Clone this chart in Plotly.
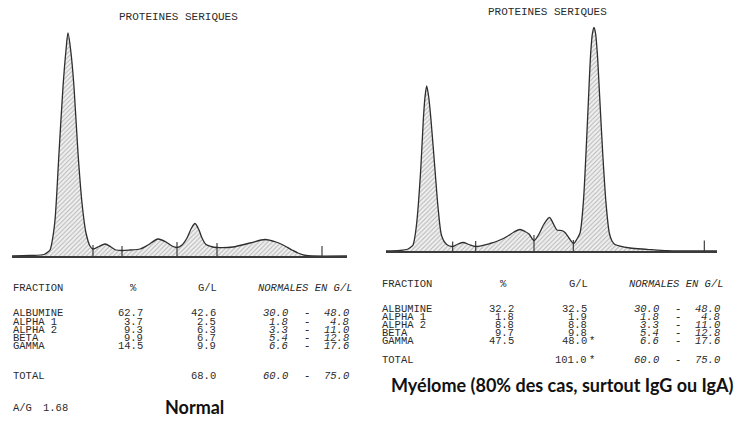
import plotly.graph_objects as go

W, H = 742, 421

# ---------------- data ----------------
# Densitometric traces (position along strip, density height)
normal_pos = [0, 18, 32, 36, 38, 40, 43, 47, 51, 54, 56, 59, 62, 66, 70, 74, 78, 81,
              87, 93, 99, 104, 110, 118, 128, 136, 146, 154, 160, 165, 170, 175, 179,
              183, 187, 190, 194, 199, 205, 221, 238, 253, 264, 272, 280, 286, 294,
              300, 335]
normal_dens = [0, 0.5, 1.5, 4, 6, 14, 36, 103, 169, 206, 223, 203, 169, 103, 53, 23,
               10, 7, 9.5, 12, 9, 6, 5.5, 6, 7, 11, 17, 14, 10, 8.5, 11, 18, 27, 32.5,
               26, 18, 11.5, 9.5, 8.5, 9, 13, 16.5, 14, 10.5, 6, 3, 0.5, 0, 0]
normal_cuts = [81, 110, 165, 205, 310]
normal_cut_h = [11, 10, 14, 13, 10]

myeloma_pos = [0, 14, 22, 25, 27, 29, 31, 34.7, 37.3, 39, 40.7, 42.7, 45, 49, 52.3,
               55.7, 60.7, 66.7, 72, 77.3, 83, 89.5, 104, 114, 121, 128, 134, 139, 143,
               148, 153, 158, 163.5, 168, 171, 175.7, 179, 183, 187.5, 191, 194, 197.3,
               200, 202.3, 204.7, 206.5, 208, 209.5, 211.3, 214, 216.7, 220, 223.3, 226,
               229, 244, 261, 281, 294, 331]
myeloma_dens = [0, 0.5, 2, 4, 6, 15, 31, 81, 131, 154, 165, 154, 131, 81, 41, 15, 6.5,
                4.5, 7, 8.5, 6.5, 4.5, 7.5, 11, 14.5, 19, 21.5, 19.5, 17, 10.5, 17, 27,
                33.5, 26, 21, 20.5, 18.5, 13, 7.5, 12, 18, 48, 98, 148, 198, 218, 223.7,
                218, 198, 148, 98, 48, 18, 10, 6.5, 3, 1.7, 0.3, 0, 0]
myeloma_cuts = [66.7, 89.7, 148, 187.3, 318.3]
myeloma_cut_h = [9.5, 10, 16, 11, 10.5]

# Result tables
fractions = ["ALBUMINE", "ALPHA 1", "ALPHA 2", "BETA", "GAMMA"]
ref_low = [30.0, 1.8, 3.3, 5.4, 6.6]
ref_high = [48.0, 4.8, 11.0, 12.8, 17.6]
total_low, total_high = 60.0, 75.0

normal_pct = [62.7, 3.7, 9.3, 9.9, 14.5]
normal_gl = [42.6, 2.5, 6.3, 6.7, 9.9]
normal_gl_flag = [False, False, False, False, False]
normal_total = 68.0
normal_total_flag = False
normal_ag = 1.68

myeloma_pct = [32.2, 1.8, 8.8, 9.7, 47.5]
myeloma_gl = [32.5, 1.9, 8.8, 9.8, 48.0]
myeloma_gl_flag = [False, False, False, False, True]
myeloma_total = 101.0
myeloma_total_flag = True

title_text = "PROTEINES SERIQUES"
caption_normal = "Normal"
caption_myeloma = "Myélome (80% des cas, surtout IgG ou IgA)"

# ---------------- figure ----------------
fig = go.Figure()

LINE = "#2e2e2e"
pattern = dict(shape="/", fgcolor="#777777", bgcolor="#f0f0f0", size=3.2, solidity=0.3)


def add_trace_set(pos, dens, cuts, cut_h, xa, ya):
    fig.add_trace(go.Scatter(
        x=pos, y=dens, mode="lines", xaxis=xa, yaxis=ya,
        line=dict(color=LINE, width=1.3, shape="spline", smoothing=0.8),
        fill="tozeroy", fillpattern=pattern, hoverinfo="skip"))
    tx, ty = [], []
    for p, h in zip(cuts, cut_h):
        tx += [p, p, None]
        ty += [0, h, None]
    fig.add_trace(go.Scatter(x=tx, y=ty, mode="lines", xaxis=xa, yaxis=ya,
                             line=dict(color=LINE, width=1.1), hoverinfo="skip"))


add_trace_set(normal_pos, normal_dens, normal_cuts, normal_cut_h, "x", "y")
add_trace_set(myeloma_pos, myeloma_dens, myeloma_cuts, myeloma_cut_h, "x2", "y2")

axis_common = dict(showline=True, linecolor="#3a3a3a", linewidth=1.5, showgrid=False,
                   zeroline=False, showticklabels=False, ticks="", fixedrange=True)
fig.update_layout(
    width=W, height=H, margin=dict(l=0, r=0, t=0, b=0),
    paper_bgcolor="white", plot_bgcolor="rgba(0,0,0,0)", showlegend=False,
    xaxis=dict(domain=[12 / W, 347 / W], range=[0, 335], anchor="y", **axis_common),
    yaxis=dict(domain=[1 - 256 / H, 1], range=[0, 256], visible=False, anchor="x"),
    xaxis2=dict(domain=[386 / W, 717 / W], range=[0, 331], anchor="y2", **axis_common),
    yaxis2=dict(domain=[1 - 251 / H, 1], range=[0, 251], visible=False, anchor="x2"),
)

MONO = "Liberation Mono, Courier New, monospace"
TXT = "#2b2b2b"
FS = 10.5
ann = []


def text(xpx, ypx, s, anchor="left", size=FS, family=MONO, color=TXT):
    ann.append(dict(x=xpx / W, y=1 - ypx / H, xref="paper", yref="paper", text=s,
                    showarrow=False, xanchor=anchor, yanchor="middle", borderpad=0,
                    font=dict(family=family, size=size, color=color)))


def table(cfg, pct, gl, gl_flag, total, total_flag):
    text(cfg["title_x"], cfg["title_y"], title_text, anchor="center", size=11)
    hy = cfg["head_y"]
    text(cfg["lab"], hy, "FRACTION")
    text(cfg["pct_c"], hy, "%", anchor="center")
    text(cfg["gl_r"] + 1.5, hy, "G/L", anchor="right")
    text(cfg["norm_l"], hy, "<i>NORMALES EN G/L</i>")
    for i, f in enumerate(fractions):
        y = cfg["rows"][i]
        text(cfg["lab"], y, f)
        text(cfg["pct_r"], y, f"{pct[i]:.1f}", anchor="right")
        text(cfg["gl_r"], y, f"{gl[i]:.1f}", anchor="right")
        if gl_flag[i]:
            text(cfg["gl_r"], y, "*")
        text(cfg["low_r"], y, f"<i>{ref_low[i]:.1f}</i>", anchor="right")
        text(cfg["dash"], y, "<i>-</i>", anchor="center")
        text(cfg["high_r"], y, f"<i>{ref_high[i]:.1f}</i>", anchor="right")
    y = cfg["total_y"]
    text(cfg["lab"], y, "TOTAL")
    text(cfg["gl_r"], y, f"{total:.1f}", anchor="right")
    if total_flag:
        text(cfg["gl_r"], y, "*")
    text(cfg["low_r"], y, f"<i>{total_low:.1f}</i>", anchor="right")
    text(cfg["dash"], y, "<i>-</i>", anchor="center")
    text(cfg["high_r"], y, f"<i>{total_high:.1f}</i>", anchor="right")


left_cfg = dict(title_x=178, title_y=16.5, lab=11.7, head_y=288.3, pct_c=133.3,
                pct_r=144, gl_r=216.7, norm_l=256.7, low_r=289.3, dash=306.7,
                high_r=350, rows=[313.3, 321.7, 330, 338.3, 346], total_y=376)
right_cfg = dict(title_x=547, title_y=11.7, lab=381, head_y=284, pct_c=504,
                 pct_r=515, gl_r=587.7, norm_l=627.7, low_r=660.3, dash=677.7,
                 high_r=721, rows=[309.3, 317.3, 325, 332.7, 340.7], total_y=360)

table(left_cfg, normal_pct, normal_gl, normal_gl_flag, normal_total, normal_total_flag)
table(right_cfg, myeloma_pct, myeloma_gl, myeloma_gl_flag, myeloma_total, myeloma_total_flag)

text(11.7, 408.3, "A/G")
text(41.5, 408.3, f"{normal_ag:.2f}")
CAP = "Lato, Open Sans, sans-serif"
text(194, 406.5, f"<b>{caption_normal}</b>", anchor="center", size=18, family=CAP, color="#111")
text(562, 385, f"<b>{caption_myeloma}</b>", anchor="center", size=18, family=CAP, color="#111")

fig.update_layout(annotations=ann)
fig.write_html("out.html", config={"displayModeBar": False, "staticPlot": True},
               post_script="document.body.style.margin='0px';")
